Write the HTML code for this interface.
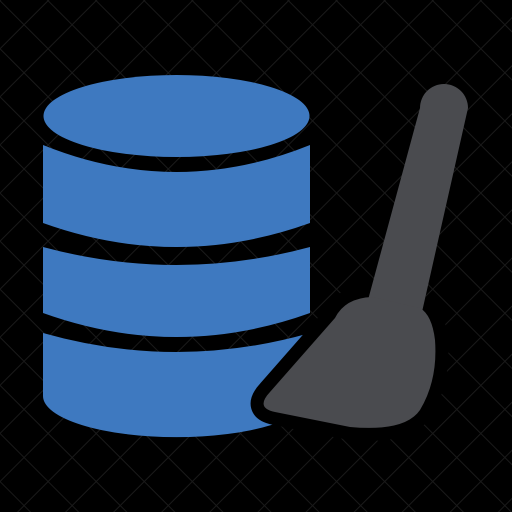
<!DOCTYPE html>
<html><head><style>
html,body{margin:0;padding:0;background:#000;}
svg{display:block;}
</style></head><body>
<svg width="512" height="512" viewBox="0 0 512 512" xmlns="http://www.w3.org/2000/svg">
<defs>
<pattern id="g" width="34" height="34" patternUnits="userSpaceOnUse" patternTransform="rotate(45)">
<path d="M0 0H34M0 0V34" stroke="#1a1a1a" stroke-width="2" fill="none"/>
</pattern>
</defs>
<rect width="512" height="512" fill="#000"/>
<rect width="512" height="512" fill="url(#g)"/>
<g fill="#3e79c0">
<ellipse cx="176.5" cy="116" rx="133" ry="41"/>
<path d="M43,145 Q176.5,199 310,145 V223 Q176.5,271 43,223 Z"/>
<path d="M43,247 Q176.5,283 310,247 V313 Q176.5,361 43,313 Z"/>
<path d="M43,333 Q176.5,371 310,333 V396 A133,41 0 0 1 43,396 Z"/>
</g>
<path d="M372,297 Q345,298 335,318 L270,392 Q255,408 275,412 L350,427 Q405,432 420,410 Q438,380 435,340 Q432,315 420,308 Z" fill="#000" stroke="#000" stroke-width="26" stroke-linejoin="round"/>
<path d="M420,108 A24,24 0 0 1 468,108 L422,312 L368,300 Z" fill="#4a4b4f"/>
<path d="M372,297 Q345,298 335,318 L270,392 Q255,408 275,412 L350,427 Q405,432 420,410 Q438,380 435,340 Q432,315 420,308 Z" fill="#4a4b4f"/>
</svg>
</body></html>
